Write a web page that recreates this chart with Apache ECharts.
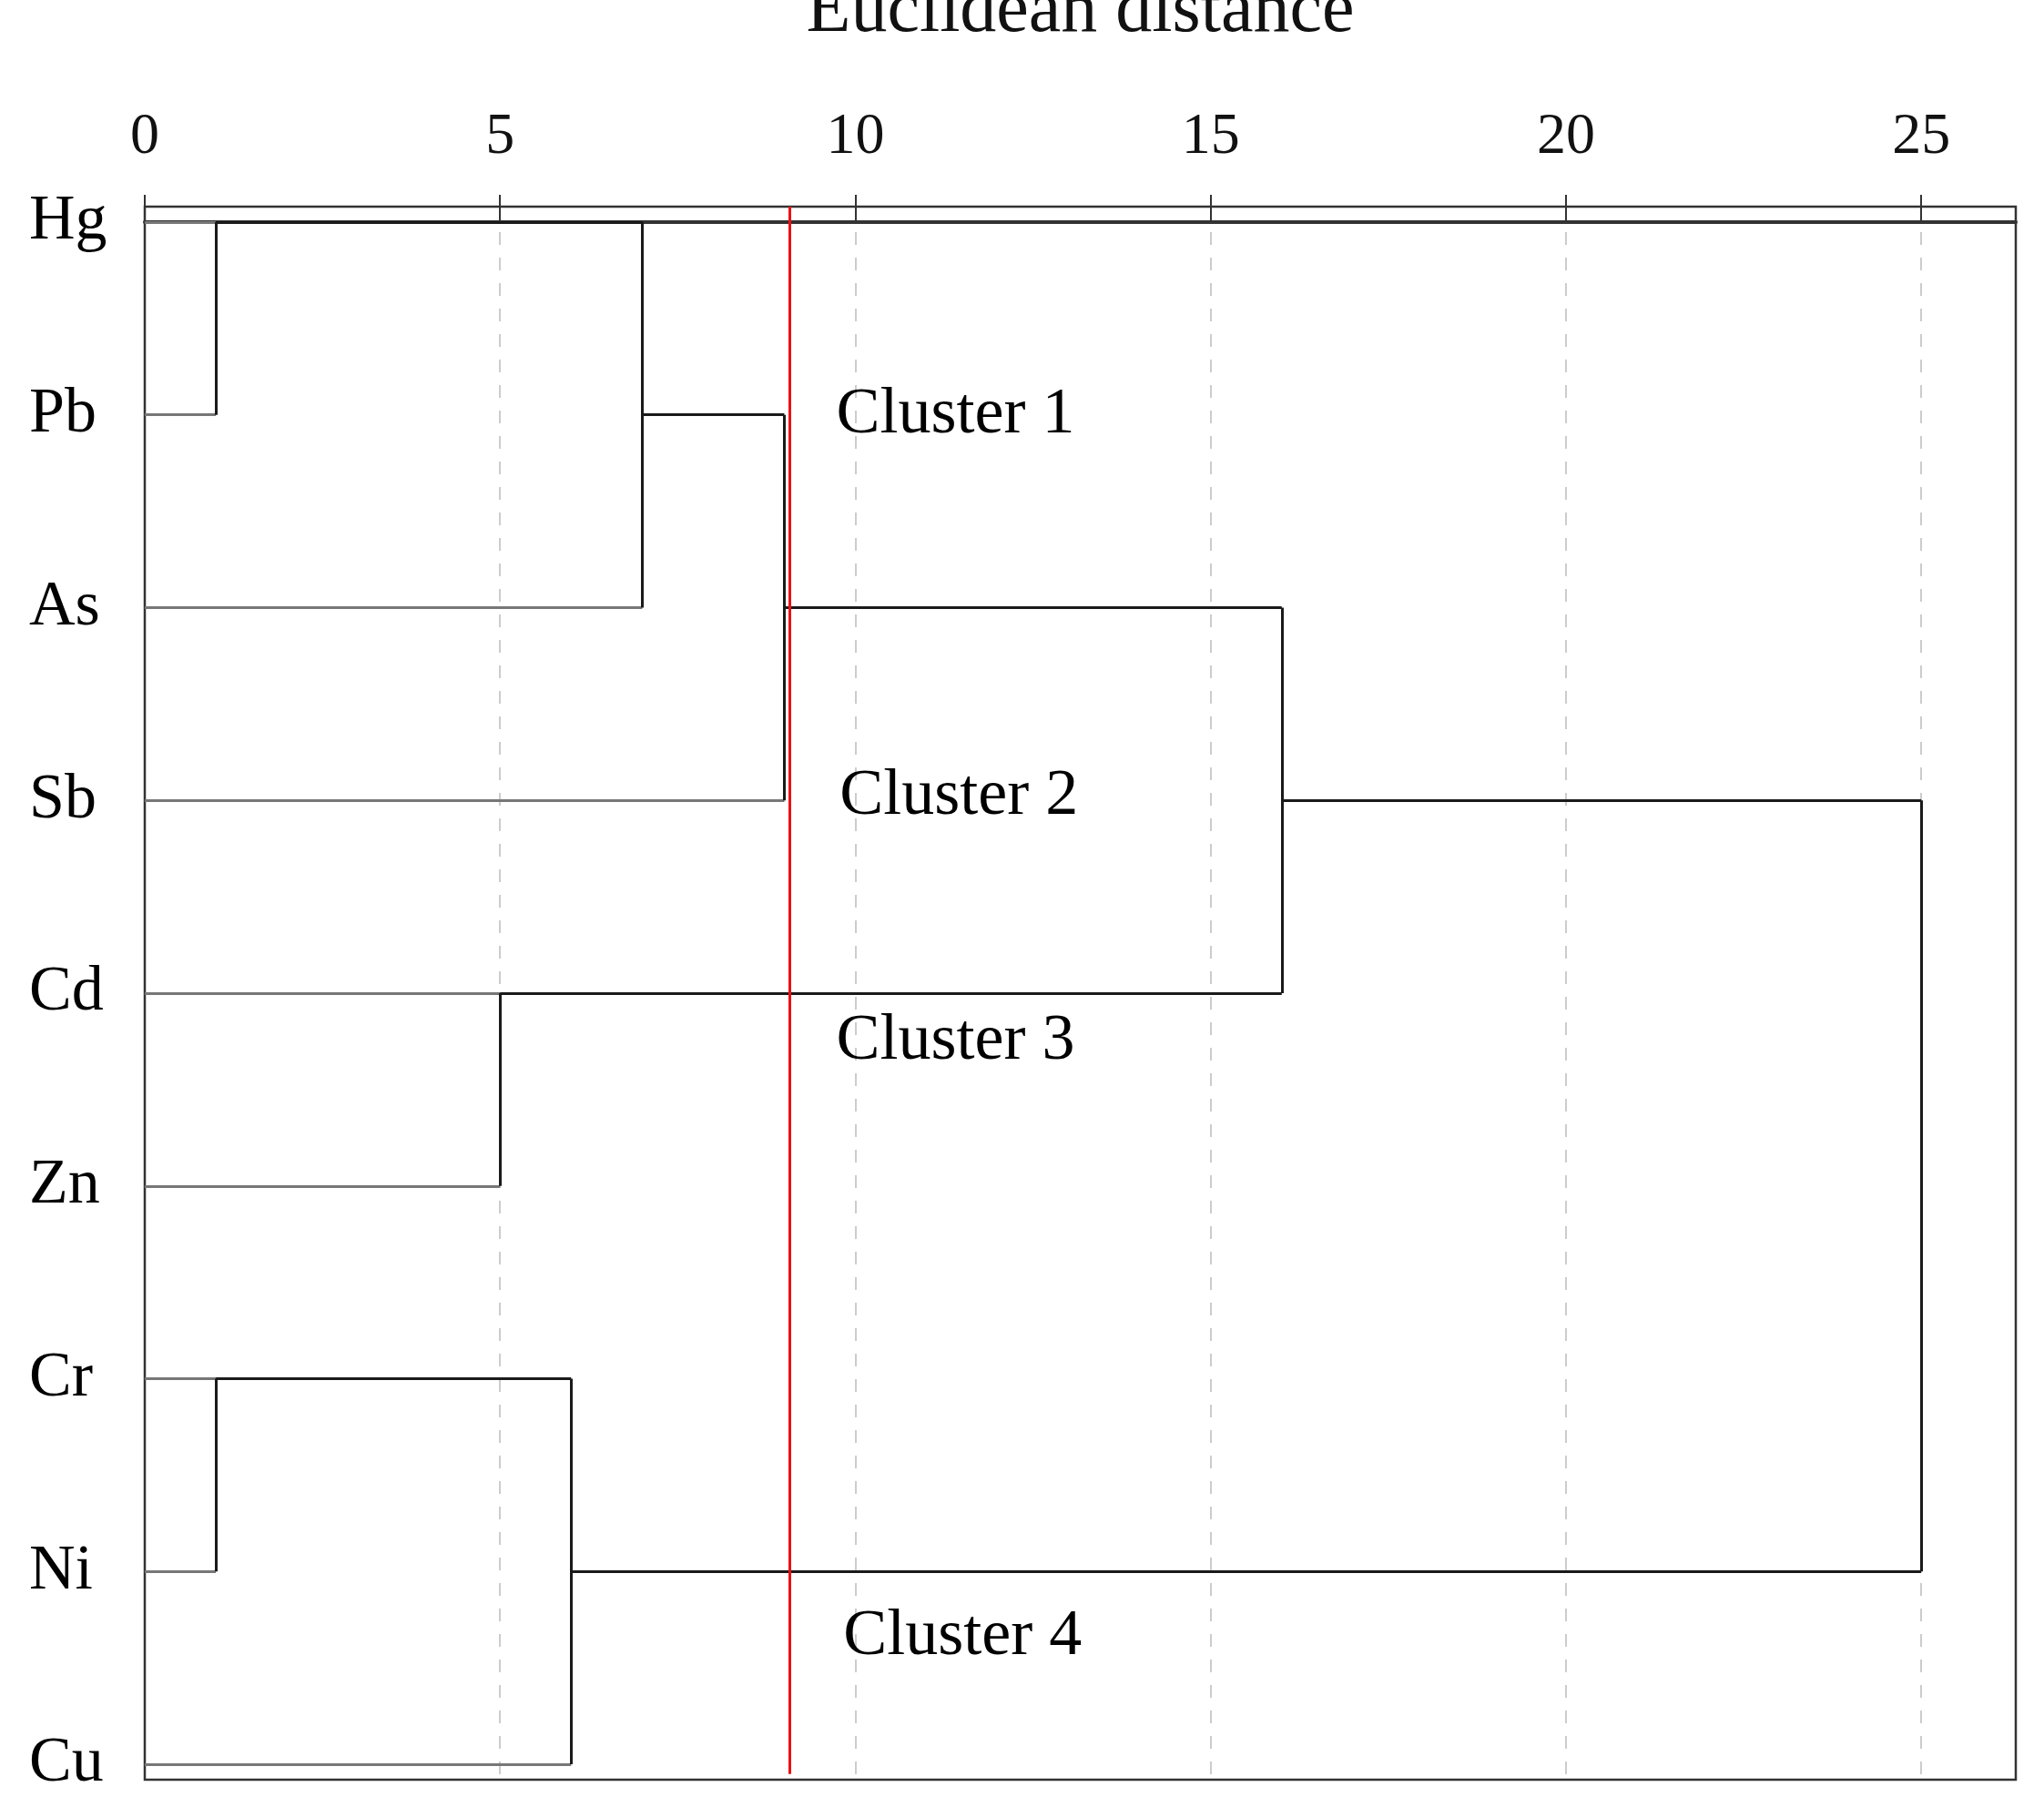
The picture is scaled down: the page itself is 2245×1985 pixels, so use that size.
<!DOCTYPE html>
<html>
<head>
<meta charset="utf-8">
<script src="https://cdn.jsdelivr.net/npm/echarts@6/dist/echarts.min.js"></script>
<style>
  html, body { margin: 0; padding: 0; background: #fff; }
  #chart { width: 2245px; height: 1985px; }
</style>
</head>
<body>
<div id="chart"></div>
<script>
// 元素（从上到下）
const elements = ['Hg', 'Pb', 'As', 'Sb', 'Cd', 'Zn', 'Cr', 'Ni', 'Cu'];
const xTicks = [0, 5, 10, 15, 20, 25];
const cutDistance = 9.07;

// 叶子横线: [行号, 终点距离]
const leafLines = [
  [0, 1], [1, 1], [2, 7], [3, 9], [4, 5], [5, 5], [6, 1], [7, 1], [8, 6]
];

// 内部连线: [x1, 行1, x2, 行2]
const linkLines = [
  [1, 0, 1, 1], [1, 0, 7, 0], [7, 0, 7, 2], [7, 1, 9, 1],
  [9, 1, 9, 3], [9, 2, 16, 2],
  [5, 4, 5, 5], [5, 4, 16, 4], [16, 2, 16, 4], [16, 3, 25, 3],
  [1, 6, 1, 7], [1, 6, 6, 6], [6, 6, 6, 8], [6, 7, 25, 7],
  [25, 3, 25, 7]
];

// 聚类标注: [名称, x, 行]
const clusterLabels = [
  ['Cluster 1', 9.73, 1],
  ['Cluster 2', 9.78, 2.98],
  ['Cluster 3', 9.73, 4.25],
  ['Cluster 4', 9.83, 7.34]
];

const serif = 'Liberation Serif';
const chart = echarts.init(document.getElementById('chart'));

chart.setOption({
  animation: false,
  grid: {
    left: 159, right: 31, top: 227, bottom: 30,
    outerBoundsMode: 'none',
    containLabel: false,
    show: true, borderColor: '#333', borderWidth: 2.5
  },
  xAxis: {
    type: 'value',
    position: 'top',
    min: 0,
    max: 26.33,
    interval: 5,
    name: 'Euclidean distance',
    nameLocation: 'middle',
    nameGap: 174,
    nameTextStyle: { fontFamily: serif, fontSize: 80, color: '#111' },
    axisLine: { show: true, lineStyle: { color: '#333', width: 4 } },
    axisTick: { show: true, inside: false, length: 30, lineStyle: { color: '#333', width: 2 } },
    axisLabel: {
      fontFamily: serif, fontSize: 64, color: '#111', margin: 44,
      showMaxLabel: false,
      formatter: v => xTicks.includes(v) ? String(v) : ''
    },
    splitLine: {
      show: true, showMinLine: false, showMaxLine: false,
      lineStyle: { color: '#ccc', type: [14, 14], width: 2 }
    }
  },
  yAxis: {
    type: 'value',
    inverse: true,
    min: -0.08,
    max: 8.08,
    show: false,
    splitLine: { show: false }
  },
  series: [
    {
      type: 'lines',
      coordinateSystem: 'cartesian2d',
      lineStyle: { color: '#777', width: 3, opacity: 1 },
      data: leafLines.map(([r, x]) => ({ coords: [[0, r], [x, r]] }))
    },
    {
      type: 'lines',
      coordinateSystem: 'cartesian2d',
      lineStyle: { color: '#1a1a1a', width: 3, opacity: 1 },
      data: linkLines.map(([x1, r1, x2, r2]) => ({ coords: [[x1, r1], [x2, r2]] }))
    },
    {
      type: 'lines',
      coordinateSystem: 'cartesian2d',
      z: 5,
      lineStyle: { color: '#ee1111', width: 3, opacity: 1 },
      data: [{ coords: [[cutDistance, -0.08], [cutDistance, 8.05]] }]
    },
    {
      type: 'scatter',
      symbolSize: 0,
      silent: true,
      itemStyle: { opacity: 1 },
      data: elements.map((name, i) => ({ value: [0, i], name })),
      label: {
        show: true, position: [-127, 0], align: 'left', verticalAlign: 'middle',
        formatter: p => p.name,
        fontFamily: serif, fontSize: 70, color: '#000'
      }
    },
    {
      type: 'scatter',
      symbolSize: 0,
      silent: true,
      itemStyle: { opacity: 1 },
      data: clusterLabels.map(([name, x, r]) => ({ value: [x, r], name })),
      label: {
        show: true, position: [0, 0], align: 'left', verticalAlign: 'middle',
        formatter: p => p.name,
        fontFamily: serif, fontSize: 72, color: '#000'
      }
    }
  ]
});
</script>
</body>
</html>
